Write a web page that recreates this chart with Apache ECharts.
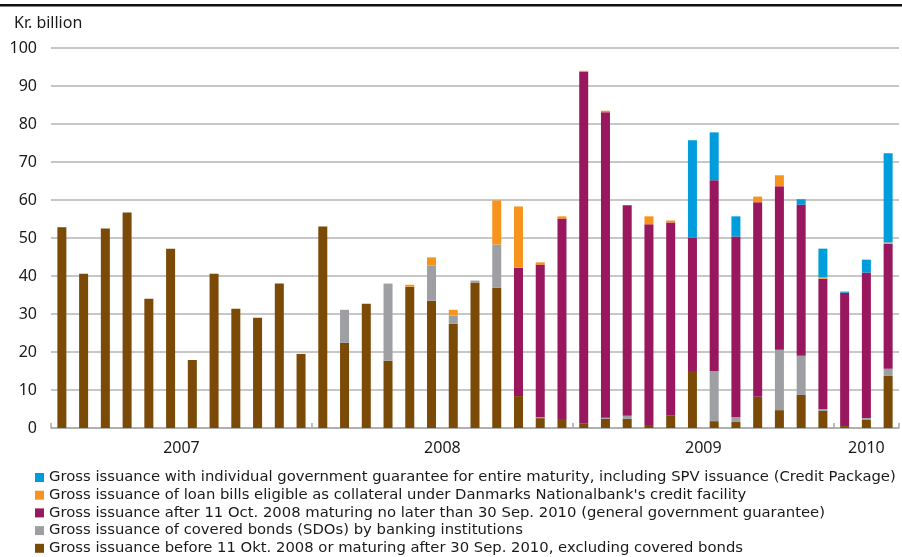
<!DOCTYPE html>
<html>
<head>
<meta charset="utf-8">
<script src="https://cdn.jsdelivr.net/npm/echarts@6/dist/echarts.min.js"></script>
<style>
  html, body { margin: 0; padding: 0; background: #fff; }
  #chart { width: 902px; height: 557px; }
</style>
</head>
<body>
<div id="chart"></div>
<script>
// Months Jan 2007 - Mar 2010
const years = ['2007', '2008', '2009', '2010'];
const monthsPerYear = [12, 12, 12, 3];
const months = [];
years.forEach((y, i) => { for (let m = 1; m <= monthsPerYear[i]; m++) months.push(y + '-' + m); });

const seriesNames = [
  'Gross issuance with individual government guarantee for entire maturity, including SPV issuance (Credit Package)',
  "Gross issuance of loan bills eligible as collateral under Danmarks Nationalbank's credit facility",
  'Gross issuance after 11 Oct. 2008 maturing no later than 30 Sep. 2010 (general government guarantee)',
  'Gross issuance of covered bonds (SDOs) by banking institutions',
  'Gross issuance before 11 Okt. 2008 or maturing after 30 Sep. 2010, excluding covered bonds'
];

const brown = [
  52.8, 40.6, 52.5, 56.7, 34.0, 47.2, 17.9, 40.6, 31.4, 29.0, 38.0, 19.5,
  53.0, 22.4, 32.7, 17.7, 37.2, 33.5, 27.4, 38.3, 36.9, 8.4, 2.6, 2.4,
  1.1, 2.4, 2.4, 0.8, 3.2, 15.0, 1.8, 1.6, 8.2, 4.7, 8.7, 4.5,
  0.5, 2.1, 13.7
];
const gray = [
  0, 0, 0, 0, 0, 0, 0, 0, 0, 0, 0, 0,
  0, 8.7, 0, 20.3, 0, 9.2, 2.2, 0.5, 11.4, 0, 0.3, 0,
  0, 0.3, 0.8, 0, 0, 0, 13.2, 1.3, 0, 15.9, 10.3, 0.5,
  0, 0.5, 1.9
];
const magenta = [
  0, 0, 0, 0, 0, 0, 0, 0, 0, 0, 0, 0,
  0, 0, 0, 0, 0, 0, 0, 0, 0, 33.8, 40.1, 52.7,
  92.6, 80.4, 55.4, 52.8, 50.9, 35.1, 50.2, 47.5, 51.2, 43.0, 39.8, 34.3,
  35.1, 38.3, 32.9
];
const orange = [
  0, 0, 0, 0, 0, 0, 0, 0, 0, 0, 0, 0,
  0, 0, 0, 0, 0.5, 2.2, 1.5, 0, 11.6, 16.1, 0.6, 0.6,
  0.3, 0.4, 0, 2.1, 0.5, 0, 0, 0, 1.5, 2.9, 0, 0.4,
  0, 0, 0.3
];
const blue = [
  0, 0, 0, 0, 0, 0, 0, 0, 0, 0, 0, 0,
  0, 0, 0, 0, 0, 0, 0, 0, 0, 0, 0, 0,
  0, 0, 0, 0, 0, 25.6, 12.6, 5.3, 0, 0, 1.4, 7.5,
  0.3, 3.4, 23.5
];

// year label positions (center of each year's months, in month units)
const yearCenters = {};
let acc = 0;
years.forEach((y, i) => { yearCenters[(acc + monthsPerYear[i] / 2)] = y; acc += monthsPerYear[i]; });
const yearStarts = [];
acc = 0;
monthsPerYear.forEach(n => { yearStarts.push(acc); acc += n; });

const colors = { blue: '#009DDC', orange: '#F7941D', magenta: '#99175F', gray: '#9D9FA2', brown: '#7B4A06' };

const chart = echarts.init(document.getElementById('chart'), null, { renderer: 'canvas' });
const baseFont = 'Noto Sans';

function bar(name, data, color) {
  return { name, type: 'bar', stack: 'total', data, barWidth: 9, itemStyle: { color }, xAxisIndex: 0, yAxisIndex: 0 };
}

chart.setOption({
  animation: false,
  backgroundColor: '#fff',
  graphic: [{ type: 'rect', left: 0, top: 4, shape: { width: 902, height: 2.5 }, style: { fill: '#111' } }],
  title: { text: 'Kr. billion', left: 9, top: 10, textStyle: { fontFamily: baseFont, fontSize: 16, fontWeight: 'normal', color: '#1a1a1a' } },
  grid: { left: 51, right: 0, top: 48, bottom: 129, containLabel: false },
  legend: {
    orient: 'vertical', left: 35, top: 470,
    itemWidth: 9, itemHeight: 9, itemGap: 2.7, icon: 'rect',
    data: seriesNames,
    textStyle: { fontFamily: 'DejaVu Sans', fontSize: 14.8, lineHeight: 15, color: '#1a1a1a', padding: [0, 0, 0, 0] },
    padding: 0
  },
  xAxis: [
    {
      type: 'category', data: months, boundaryGap: true,
      axisLine: { lineStyle: { color: '#a9a9a9', width: 1.5 } },
      axisTick: { show: true, inside: true, length: 5, alignWithLabel: false, interval: (i) => yearStarts.includes(i), lineStyle: { color: '#a9a9a9', width: 1.5 } },
      axisLabel: { show: false }
    },
    {
      type: 'value', min: 0, max: months.length, interval: 0.5, position: 'bottom',
      axisLine: { show: false }, axisTick: { show: false }, splitLine: { show: false },
      axisLabel: { margin: 12, fontFamily: baseFont, fontSize: 16, color: '#1a1a1a', formatter: (v) => yearCenters[v] || '', showMinLabel: true, showMaxLabel: true }
    }
  ],
  yAxis: {
    type: 'value', min: 0, max: 100, interval: 10,
    axisLine: { show: false }, axisTick: { show: false },
    splitLine: { lineStyle: { color: '#b5b5b5', width: 1.6 } },
    axisLabel: { margin: 14, fontFamily: baseFont, fontSize: 16, color: '#1a1a1a' }
  },
  series: [
    bar(seriesNames[4], brown, colors.brown),
    bar(seriesNames[3], gray, colors.gray),
    bar(seriesNames[2], magenta, colors.magenta),
    bar(seriesNames[1], orange, colors.orange),
    bar(seriesNames[0], blue, colors.blue)
  ]
});
</script>
</body>
</html>
